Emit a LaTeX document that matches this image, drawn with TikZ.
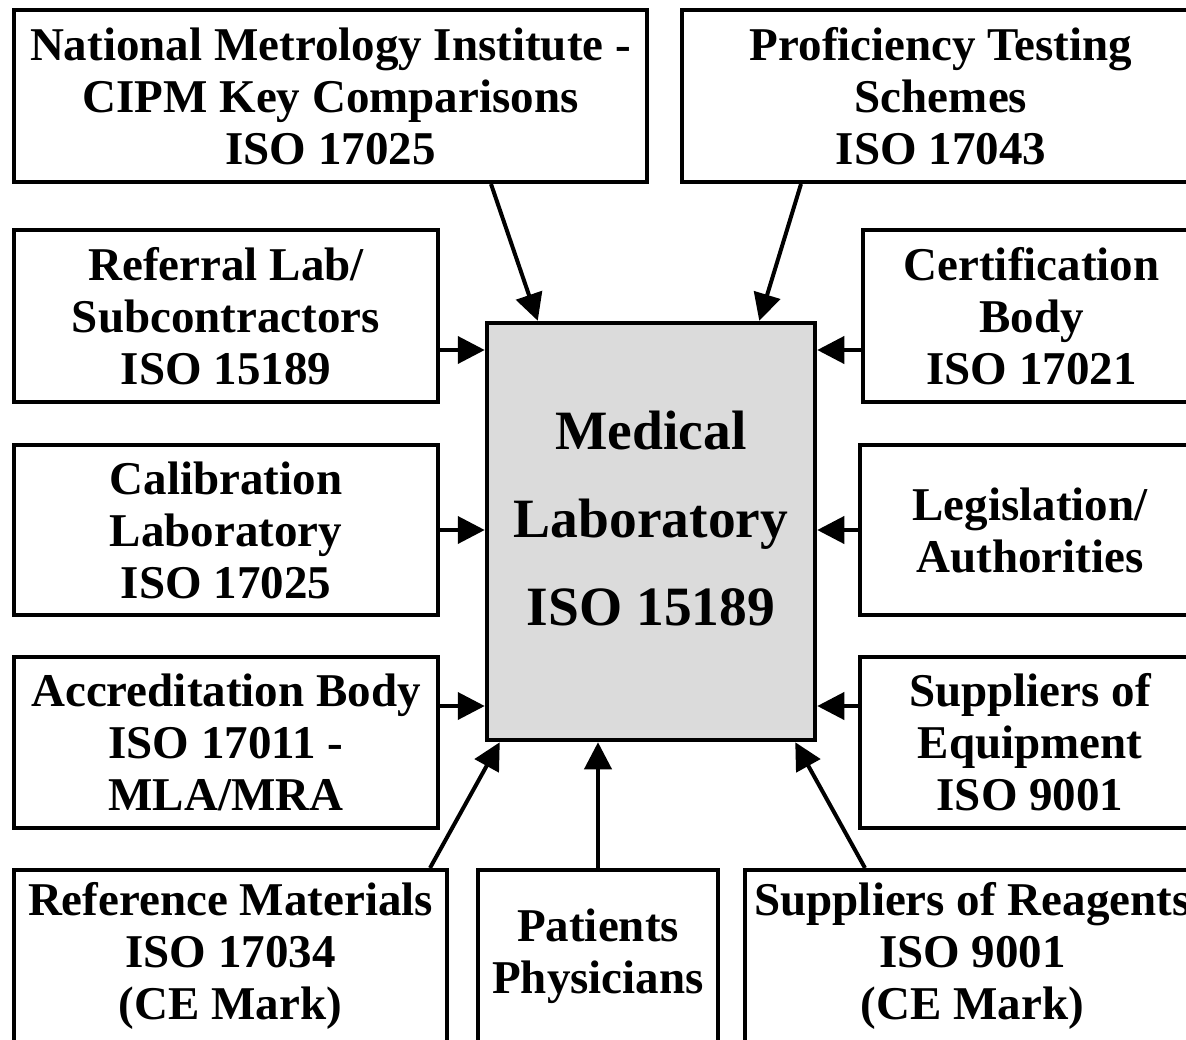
\documentclass[tikz,border=0pt]{standalone}
\usepackage{fontspec}
\setmainfont{Liberation Serif}
\usetikzlibrary{arrows.meta}

\tikzset{
  box/.style={draw=black, line width=4pt, fill=white, inner sep=0pt,
    align=center, font=\fontsize{47}{52}\selectfont\bfseries},
  labbox/.style={draw=black, line width=4.5pt, fill=black!14, inner sep=0pt,
    align=center, font=\fontsize{55.5}{88}\selectfont\bfseries},
  feed/.style={line width=4pt, -{Triangle[length=27pt,width=27pt]}},
}

\begin{document}
\begin{tikzpicture}[x=1pt,y=-1pt]
  \useasboundingbox (0,0) rectangle (1186,1039);
  \clip (0,0) rectangle (1186,1039);

  % central laboratory (text block sits a little above the centre)
  \node[labbox, minimum width=328, minimum height=417] (lab) at (651,531.5)
    {Medical\\Laboratory\\ISO 15189\\[-62pt]\mbox{}};

  % top row
  \node[box, minimum width=633, minimum height=172] (nmi) at (330.5,96)
    {National Metrology Institute -\\CIPM Key Comparisons\\ISO 17025};
  \node[box, minimum width=518, minimum height=172] (pts) at (941,96)
    {Proficiency Testing\\Schemes\\ISO 17043};

  % left column
  \node[box, minimum width=424, minimum height=172] (ref) at (226,316)
    {Referral Lab/\\Subcontractors\\ISO 15189};
  \node[box, minimum width=424, minimum height=170] (cal) at (226,530)
    {Calibration\\Laboratory\\ISO 17025};
  \node[box, minimum width=424, minimum height=171] (acc) at (226,742.5)
    {Accreditation Body\\ISO 17011 -\\MLA/MRA};

  % right column
  \node[box, minimum width=337, minimum height=172] (cert) at (1031.5,316)
    {Certification\\Body\\ISO 17021};
  \node[box, minimum width=340, minimum height=170] (leg) at (1030,530)
    {Legislation/\\Authorities};
  \node[box, minimum width=340, minimum height=171] (equ) at (1030,742.5)
    {Suppliers of\\Equipment\\ISO 9001};

  % bottom row
  \node[box, minimum width=433, minimum height=172] (rm) at (230.5,956)
    {Reference Materials\\ISO 17034\\(CE Mark)};
  \node[box, minimum width=240, minimum height=172] (pat) at (598,956)
    {Patients\\Physicians};
  \node[box, minimum width=455, minimum height=172] (rea) at (972.5,956)
    {Suppliers of Reagents\\ISO 9001\\(CE Mark)};

  % connectors into the laboratory
  \draw[feed] ([xshift=479]nmi.south west) -- ([xshift=53]lab.north west);
  \draw[feed] ([xshift=121]pts.south west) -- ([xshift=-58]lab.north east);

  \coordinate (rin) at ([yshift=-122]ref.north east);
  \coordinate (ain) at ([yshift=-51]acc.north east);
  \coordinate (cin) at ([yshift=-122]cert.north west);
  \coordinate (ein) at ([yshift=-51]equ.north west);

  \draw[feed] (rin) -- (rin -| lab.west);
  \draw[feed] (cal.east) -- (cal.east -| lab.west);
  \draw[feed] (ain) -- (ain -| lab.west);

  \draw[feed] (cin) -- (cin -| lab.east);
  \draw[feed] (leg.west) -- (leg.west -| lab.east);
  \draw[feed] (ein) -- (ein -| lab.east);

  \draw[feed] ([xshift=-19]rm.north east) -- ([xshift=15]lab.south west);
  \draw[feed] (pat.north) -- (pat.north |- lab.south);
  \draw[feed] ([xshift=122]rea.north west) -- ([xshift=-22]lab.south east);
\end{tikzpicture}
\end{document}
